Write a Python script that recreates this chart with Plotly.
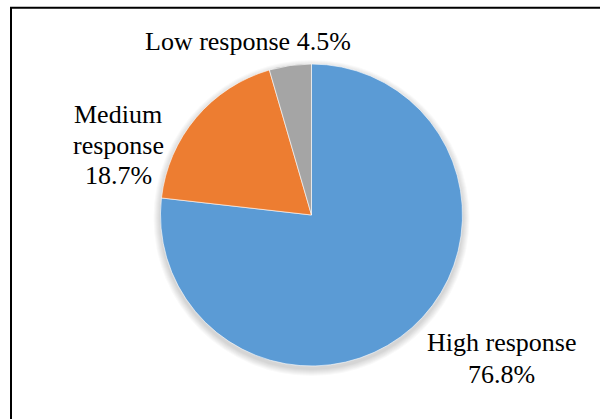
import plotly.graph_objects as go

# Response categories and their shares (%)
labels = ["High response", "Medium response", "Low response"]
shares = [76.8, 18.7, 4.5]
colors = ["#5B9BD5", "#ED7D31", "#A5A5A5"]

W, H = 600, 419
cx, cy, r = 311.5, 215.0, 151.0  # pie centre and radius in pixels


def px_x(x):
    return x / W


def px_y(y):
    return 1 - y / H


def domain(cx, cy, r):
    return dict(x=[px_x(cx - r), px_x(cx + r)], y=[px_y(cy + r), px_y(cy - r)])


fig = go.Figure()

# soft drop shadow under the pie
for k in range(7, 0, -1):
    fig.add_trace(go.Pie(
        values=[1], labels=["shadow"], sort=False,
        marker=dict(colors=["rgba(0,0,0,0.022)"], line=dict(width=0)),
        textinfo="none", hoverinfo="skip", showlegend=False,
        domain=domain(cx, cy + 3, r + k),
    ))

fig.add_trace(go.Pie(
    labels=labels, values=shares, sort=False,
    direction="clockwise", rotation=0,
    marker=dict(colors=colors, line=dict(color="white", width=0.6)),
    textinfo="none", hoverinfo="label+percent", showlegend=False,
    domain=domain(cx, cy, r),
))

# outside data labels: (label index, split words onto lines, centre x, baselines)
label_layout = [
    (2, False, 248, [50]),
    (1, True, 118, [122, 153, 183]),
    (0, False, 501, [350, 382]),
]

font = dict(family="Liberation Serif, Times New Roman, serif", size=26, color="#000000")
for idx, split, x, baselines in label_layout:
    pct = f"{shares[idx]:.1f}%"
    if split:
        lines = labels[idx].split(" ") + [pct]
    elif len(baselines) == 1:
        lines = [f"{labels[idx]} {pct}"]
    else:
        lines = [labels[idx], pct]
    for line, b in zip(lines, baselines):
        fig.add_annotation(
            x=px_x(x), y=px_y(b - 8), xref="paper", yref="paper",
            text=line, showarrow=False, xanchor="center", yanchor="middle",
            font=font,
        )

# chart frame (top and left edges fall inside the canvas)
fig.add_shape(type="rect", xref="paper", yref="paper",
              x0=px_x(11), x1=1.05, y0=-0.05, y1=px_y(7.7),
              line=dict(color="black", width=2), fillcolor="rgba(0,0,0,0)")

fig.update_layout(
    width=W, height=H,
    margin=dict(l=0, r=0, t=0, b=0),
    paper_bgcolor="white", plot_bgcolor="white",
)

fig.write_html("out.html")
